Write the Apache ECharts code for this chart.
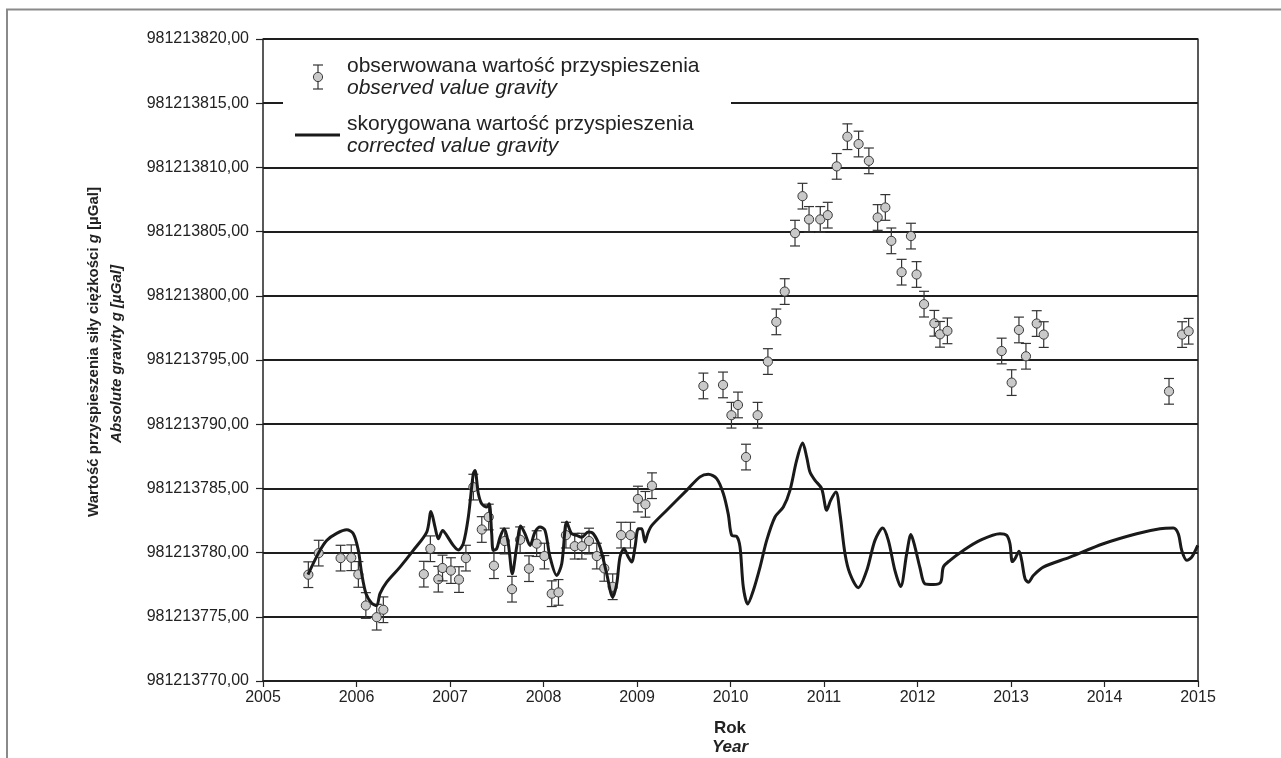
<!DOCTYPE html>
<html>
<head>
<meta charset="utf-8">
<script src="https://cdn.jsdelivr.net/npm/echarts@6/dist/echarts.min.js"></script>
<style>html,body{margin:0;padding:0;background:#fff;}#c{width:1281px;height:758px;}</style>
</head>
<body>
<div id="c"></div>
<script>
// ---- data ----
const obsYear = [2005.485, 2005.596, 2005.83, 2005.944, 2006.02, 2006.10, 2006.216, 2006.287, 2006.72, 2006.79,
  2006.875, 2006.92, 2007.01, 2007.096, 2007.17, 2007.25, 2007.34, 2007.414, 2007.47, 2007.585,
  2007.663, 2007.75, 2007.845, 2007.927, 2008.01, 2008.088, 2008.16, 2008.24, 2008.334, 2008.41,
  2008.487, 2008.57, 2008.65, 2008.74, 2008.83, 2008.93, 2009.01, 2009.09, 2009.16, 2009.71,
  2009.92, 2010.01, 2010.08, 2010.166, 2010.29, 2010.40, 2010.49, 2010.58, 2010.69, 2010.77,
  2010.84, 2010.96, 2011.04, 2011.136, 2011.25, 2011.37, 2011.48, 2011.574, 2011.656, 2011.72,
  2011.83, 2011.93, 2011.99, 2012.07, 2012.18, 2012.24, 2012.32, 2012.90, 2013.007, 2013.085,
  2013.16, 2013.275, 2013.35, 2014.69, 2014.83, 2014.90];
const obsValue = [981213778.28, 981213779.96, 981213779.57, 981213779.60, 981213778.30, 981213775.88, 981213774.97, 981213775.55, 981213778.32, 981213780.30,
  981213777.93, 981213778.80, 981213778.60, 981213777.90, 981213779.57, 981213785.10, 981213781.80, 981213782.77, 981213778.98, 981213780.90,
  981213777.15, 981213781.00, 981213778.75, 981213780.70, 981213779.73, 981213776.80, 981213776.90, 981213781.36, 981213780.50, 981213780.50,
  981213780.90, 981213779.73, 981213778.77, 981213777.34, 981213781.36, 981213781.36, 981213784.17, 981213783.76, 981213785.21, 981213792.98,
  981213793.06, 981213790.70, 981213791.50, 981213787.44, 981213790.70, 981213794.88, 981213797.97, 981213800.33, 981213804.88, 981213807.76,
  981213805.95, 981213805.95, 981213806.28, 981213810.08, 981213812.39, 981213811.82, 981213810.51, 981213806.10, 981213806.88, 981213804.28,
  981213801.84, 981213804.65, 981213801.66, 981213799.35, 981213797.86, 981213797.00, 981213797.27, 981213795.70, 981213793.24, 981213797.34,
  981213795.29, 981213797.84, 981213796.98, 981213792.56, 981213796.98, 981213797.24];
const obsError = 1.0;

const corYear = [2005.481, 2005.596, 2005.681, 2005.788, 2005.895, 2005.966, 2006.019, 2006.056, 2006.102, 2006.163,
  2006.216, 2006.251, 2006.323, 2006.465, 2006.607, 2006.751, 2006.797, 2006.840, 2006.875, 2006.922,
  2006.965, 2007.035, 2007.089, 2007.142, 2007.196, 2007.249, 2007.267, 2007.303, 2007.339, 2007.393,
  2007.420, 2007.446, 2007.463, 2007.499, 2007.535, 2007.581, 2007.624, 2007.666, 2007.713, 2007.756,
  2007.802, 2007.856, 2007.909, 2007.963, 2008.016, 2008.070, 2008.141, 2008.195, 2008.248, 2008.301,
  2008.355, 2008.409, 2008.479, 2008.533, 2008.604, 2008.676, 2008.740, 2008.783, 2008.818, 2008.861,
  2008.907, 2008.943, 2008.979, 2009.014, 2009.050, 2009.086, 2009.114, 2009.157, 2009.318, 2009.531,
  2009.674, 2009.763, 2009.852, 2009.923, 2009.976, 2010.013, 2010.066, 2010.102, 2010.137, 2010.184,
  2010.244, 2010.316, 2010.387, 2010.476, 2010.565, 2010.636, 2010.708, 2010.772, 2010.815, 2010.850,
  2010.904, 2010.975, 2011.029, 2011.071, 2011.128, 2011.171, 2011.225, 2011.278, 2011.367, 2011.457,
  2011.545, 2011.628, 2011.688, 2011.759, 2011.820, 2011.884, 2011.930, 2011.973, 2012.027, 2012.080,
  2012.169, 2012.248, 2012.276, 2012.348, 2012.490, 2012.668, 2012.882, 2012.954, 2012.989, 2013.014,
  2013.043, 2013.086, 2013.114, 2013.150, 2013.185, 2013.239, 2013.345, 2013.631, 2013.987, 2014.344,
  2014.594, 2014.736, 2014.789, 2014.826, 2014.880, 2014.933, 2014.997];
const corValue = [981213778.28, 981213780.00, 981213780.95, 981213781.50, 981213781.78, 981213781.47, 981213780.20, 981213778.35, 981213776.80, 981213776.06,
  981213775.88, 981213776.80, 981213777.70, 981213778.87, 981213780.17, 981213781.60, 981213783.20, 981213781.99, 981213781.08, 981213781.73,
  981213781.34, 981213780.56, 981213780.20, 981213780.70, 981213782.77, 981213786.15, 981213786.40, 981213784.60, 981213783.80, 981213783.55,
  981213783.80, 981213781.47, 981213780.17, 981213780.30, 981213781.20, 981213781.86, 981213780.69, 981213778.35, 981213780.43, 981213782.07,
  981213781.47, 981213780.56, 981213781.60, 981213782.00, 981213781.73, 981213779.65, 981213778.22, 981213779.13, 981213782.38, 981213781.47,
  981213781.34, 981213781.20, 981213781.60, 981213781.47, 981213780.43, 981213778.35, 981213776.53, 981213777.57, 981213779.65, 981213780.30,
  981213779.65, 981213779.26, 981213780.43, 981213781.86, 981213781.86, 981213780.82, 981213781.47, 981213782.10, 981213783.30, 981213784.85,
  981213785.90, 981213786.10, 981213785.76, 981213784.60, 981213783.00, 981213781.34, 981213781.26, 981213780.43, 981213777.32, 981213776.00,
  981213777.05, 981213778.87, 981213780.95, 981213782.77, 981213783.55, 981213784.85, 981213787.20, 981213788.53, 981213787.44, 981213786.27,
  981213785.63, 981213784.98, 981213783.30, 981213784.07, 981213784.72, 981213783.00, 981213779.90, 981213778.35, 981213777.27, 981213778.60,
  981213780.95, 981213781.91, 981213780.95, 981213778.60, 981213777.36, 981213779.90, 981213781.40, 981213780.43, 981213778.80, 981213777.57,
  981213777.52, 981213777.70, 981213778.87, 981213779.40, 981213780.17, 981213780.95, 981213781.47, 981213781.34, 981213780.69, 981213779.30,
  981213779.53, 981213780.10, 981213779.40, 981213777.97, 981213777.70, 981213778.22, 981213778.87, 981213779.65, 981213780.69, 981213781.47,
  981213781.86, 981213781.91, 981213781.47, 981213780.17, 981213779.40, 981213779.65, 981213780.56];

const yMin = 981213770, yMax = 981213820, yStep = 5;
const xMin = 2005, xMax = 2015, xStep = 1;

const legendObs = ['obserwowana wartość przyspieszenia', 'observed value gravity'];
const legendCor = ['skorygowana wartość przyspieszenia', 'corrected value gravity'];
const xNames = ['Rok', 'Year'];
const yNames = ['Wartość przyspieszenia siły ciężkości ', 'g', ' [µGal]', 'Absolute gravity g [µGal]'];

// ---- chart ----
const FONT = '"Liberation Sans", Arial, Helvetica, sans-serif';
const chart = echarts.init(document.getElementById('c'), null, {renderer: 'canvas'});

const obsData = obsYear.map((x, i) => [x, obsValue[i]]);
const corData = corYear.map((x, i) => [x, corValue[i]]);

function renderErr(params, api) {
  const x = api.value(0), y = api.value(1);
  const c = api.coord([x, y]);
  const t = api.coord([x, y + obsError]);
  const b = api.coord([x, y - obsError]);
  const hw = 5;
  const st = {stroke: '#333', lineWidth: 1.2};
  return {
    type: 'group',
    children: [
      {type: 'line', shape: {x1: c[0], y1: t[1], x2: c[0], y2: b[1]}, style: st},
      {type: 'line', shape: {x1: c[0] - hw, y1: t[1], x2: c[0] + hw, y2: t[1]}, style: st},
      {type: 'line', shape: {x1: c[0] - hw, y1: b[1], x2: c[0] + hw, y2: b[1]}, style: st},
      {type: 'circle', shape: {cx: c[0], cy: c[1], r: 4.6}, style: {fill: '#c9c9c9', stroke: '#3a3a3a', lineWidth: 1}}
    ]
  };
}

const option = {
  backgroundColor: '#fff',
  animation: false,
  grid: {left: 263, right: 83, top: 39, bottom: 77, show: false},
  xAxis: {
    type: 'value', min: xMin, max: xMax, interval: xStep,
    axisLine: {show: true, onZero: false, lineStyle: {color: '#222', width: 1.5}},
    axisTick: {show: true, inside: false, length: 6, lineStyle: {color: '#222', width: 1.2}},
    axisLabel: {margin: 9, color: '#222', fontSize: 16, fontFamily: FONT, formatter: v => String(Math.round(v))},
    splitLine: {show: false}
  },
  yAxis: [{
    type: 'value', min: yMin, max: yMax, interval: yStep,
    axisLine: {show: true, lineStyle: {color: '#222', width: 1.5}},
    axisTick: {show: true, inside: false, length: 7, lineStyle: {color: '#222', width: 1.2}},
    axisLabel: {margin: 14, color: '#222', fontSize: 16, fontFamily: FONT, formatter: v => v.toFixed(2).replace('.', ',')},
    splitLine: {show: true, lineStyle: {color: '#1e1e1e', width: 1.8}}
  }, {
    type: 'value', min: yMin, max: yMax, interval: yStep, position: 'right',
    axisLine: {show: true, lineStyle: {color: '#222', width: 1.5}},
    axisTick: {show: false}, axisLabel: {show: false}, splitLine: {show: false}
  }],
  series: [{
    type: 'custom', name: 'obs', renderItem: renderErr, data: obsData, z: 2,
    encode: {x: 0, y: 1}
  }, {
    type: 'line', name: 'cor', data: corData, smooth: 0.3, symbol: 'none', z: 3,
    lineStyle: {color: '#1a1a1a', width: 3}
  }],
  graphic: [
    {type: 'polyline', shape: {points: [[7, 758], [7, 9.5], [1281, 9.5]]}, style: {stroke: '#8a8a8a', lineWidth: 2, fill: null}, z: 10},
    // legend box
    {type: 'rect', shape: {x: 283, y: 45, width: 448, height: 115}, style: {fill: '#fff'}, z: 20},
    {type: 'line', shape: {x1: 318, y1: 65, x2: 318, y2: 89}, style: {stroke: '#333', lineWidth: 1.2}, z: 21},
    {type: 'line', shape: {x1: 313, y1: 65, x2: 323, y2: 65}, style: {stroke: '#333', lineWidth: 1.2}, z: 21},
    {type: 'line', shape: {x1: 313, y1: 89, x2: 323, y2: 89}, style: {stroke: '#333', lineWidth: 1.2}, z: 21},
    {type: 'circle', shape: {cx: 318, cy: 77, r: 4.6}, style: {fill: '#c9c9c9', stroke: '#3a3a3a', lineWidth: 1}, z: 22},
    {type: 'text', x: 347, y: 66, style: {text: legendObs[0], font: '21px ' + FONT, fill: '#222', verticalAlign: 'middle'}, z: 21},
    {type: 'text', x: 347, y: 88, style: {text: legendObs[1], font: 'italic 21px ' + FONT, fill: '#222', verticalAlign: 'middle'}, z: 21},
    {type: 'line', shape: {x1: 295, y1: 135, x2: 340, y2: 135}, style: {stroke: '#1a1a1a', lineWidth: 3}, z: 21},
    {type: 'text', x: 347, y: 124, style: {text: legendCor[0], font: '21px ' + FONT, fill: '#222', verticalAlign: 'middle'}, z: 21},
    {type: 'text', x: 347, y: 146, style: {text: legendCor[1], font: 'italic 21px ' + FONT, fill: '#222', verticalAlign: 'middle'}, z: 21},
    // axis names
    {type: 'text', x: 730, y: 728, style: {text: xNames[0], font: 'bold 17px ' + FONT, fill: '#222', align: 'center', verticalAlign: 'middle'}, z: 21},
    {type: 'text', x: 730, y: 747, style: {text: xNames[1], font: 'italic bold 17px ' + FONT, fill: '#222', align: 'center', verticalAlign: 'middle'}, z: 21},
    {type: 'text', x: 94, y: 352, rotation: Math.PI / 2, style: {
      text: '{a|' + yNames[0] + '}{b|' + yNames[1] + '}{a|' + yNames[2] + '}',
      rich: {a: {font: 'bold 15px ' + FONT, fill: '#222'}, b: {font: 'italic bold 15px ' + FONT, fill: '#222'}},
      align: 'center', verticalAlign: 'middle'}, z: 21},
    {type: 'text', x: 117, y: 354, rotation: Math.PI / 2, style: {text: yNames[3], font: 'italic bold 15px ' + FONT, fill: '#222', align: 'center', verticalAlign: 'middle'}, z: 21}
  ]
};
chart.setOption(option);
</script>
</body>
</html>
